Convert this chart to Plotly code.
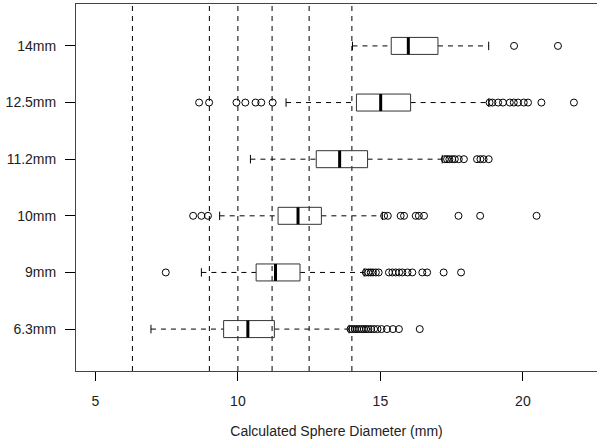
import plotly.graph_objects as go

# Categories (sieve sizes) and their numeric size (used for dashed reference lines)
categories = ["6.3mm", "9mm", "10mm", "11.2mm", "12.5mm", "14mm"]
sieve_sizes = [6.3, 9.0, 10.0, 11.2, 12.5, 14.0]

# Box statistics
lower_whisker = [6.95, 8.72, 9.36, 10.44, 11.69, 14.02]
q1 = [9.50, 10.64, 11.41, 12.75, 14.16, 15.38]
median = [10.35, 11.32, 12.11, 13.57, 15.01, 15.98]
q3 = [11.28, 12.18, 12.93, 14.55, 16.06, 17.02]
upper_whisker = [13.90, 14.43, 15.07, 17.17, 18.80, 18.80]

# Outliers per category
outliers_6_3 = [13.95, 14.02, 14.10, 14.18, 14.26, 14.34, 14.42, 14.50, 14.58, 14.67,
                14.78, 14.90, 15.04, 15.23, 15.44, 15.65, 16.38]
outliers_9 = [7.47, 14.49, 14.58, 14.66, 14.74, 14.84, 14.94, 15.30, 15.42, 15.54,
              15.66, 15.77, 15.95, 16.12, 16.47, 16.64, 17.22, 17.83]
outliers_10 = [8.43, 8.72, 8.95, 15.13, 15.26, 15.71, 15.83, 16.24, 16.35, 16.53,
               17.74, 18.50, 20.48]
outliers_11_2 = [17.26, 17.34, 17.42, 17.52, 17.61, 17.75, 17.93, 18.39, 18.51,
                 18.62, 18.80]
outliers_12_5 = [8.64, 8.99, 9.95, 10.26, 10.62, 10.82, 11.22, 18.83, 18.93, 19.13,
                 19.30, 19.54, 19.68, 19.83, 20.03, 20.18, 20.65, 21.79]
outliers_14 = [19.69, 21.23]
outliers = [outliers_6_3, outliers_9, outliers_10, outliers_11_2, outliers_12_5, outliers_14]

positions = list(range(1, len(categories) + 1))
BOX_HALF = 0.15
STAPLE_HALF = 0.075
DASH = "5px,5px"

fig = go.Figure()

# Dashed reference lines at each sieve size
for s in sieve_sizes:
    fig.add_vline(x=s, line=dict(color="black", width=1, dash=DASH), layer="below")

for i, p in enumerate(positions):
    # dashed whiskers
    fig.add_trace(go.Scatter(
        x=[lower_whisker[i], q1[i], None, q3[i], upper_whisker[i]],
        y=[p, p, None, p, p], mode="lines",
        line=dict(color="black", width=1, dash=DASH), hoverinfo="skip", showlegend=False))
    # staples
    fig.add_trace(go.Scatter(
        x=[lower_whisker[i], lower_whisker[i], None, upper_whisker[i], upper_whisker[i]],
        y=[p - STAPLE_HALF, p + STAPLE_HALF, None, p - STAPLE_HALF, p + STAPLE_HALF],
        mode="lines", line=dict(color="black", width=1), hoverinfo="skip", showlegend=False))
    # box
    fig.add_trace(go.Scatter(
        x=[q1[i], q3[i], q3[i], q1[i], q1[i]],
        y=[p - BOX_HALF, p - BOX_HALF, p + BOX_HALF, p + BOX_HALF, p - BOX_HALF],
        mode="lines", line=dict(color="#333333", width=1), hoverinfo="skip", showlegend=False))
    # median
    fig.add_trace(go.Scatter(
        x=[median[i], median[i]], y=[p - BOX_HALF, p + BOX_HALF], mode="lines",
        line=dict(color="black", width=3), hoverinfo="skip", showlegend=False))
    # outliers
    fig.add_trace(go.Scatter(
        x=outliers[i], y=[p] * len(outliers[i]), mode="markers",
        marker=dict(symbol="circle-open", size=7, color="black", line=dict(width=1)),
        showlegend=False))

font_family = "Liberation Sans, Arial, Helvetica, sans-serif"
fig.update_layout(
    width=597, height=448,
    margin=dict(l=76, r=0, t=4, b=77),
    plot_bgcolor="white", paper_bgcolor="white",
    font=dict(family=font_family, size=14, color="#222222"),
    showlegend=False,
)
fig.update_xaxes(
    range=[4.32, 22.60], tickvals=[5, 10, 15, 20], ticktext=["5", "10", "15", "20"],
    ticks="outside", ticklen=9, tickcolor="black", tickwidth=1,
    showline=True, linecolor="#444444", linewidth=1, mirror=True,
    showgrid=False, zeroline=False, ticklabelstandoff=8,
    title=dict(text="Calculated Sphere Diameter (mm)", standoff=18,
               font=dict(size=14, family=font_family)),
)
fig.update_yaxes(
    range=[0.26, 6.74], tickvals=positions, ticktext=categories,
    ticks="outside", ticklen=10, tickcolor="black", tickwidth=1,
    showline=True, linecolor="#444444", linewidth=1, mirror=False,
    showgrid=False, zeroline=False, ticklabelstandoff=6,
)

fig.write_html("out.html")
